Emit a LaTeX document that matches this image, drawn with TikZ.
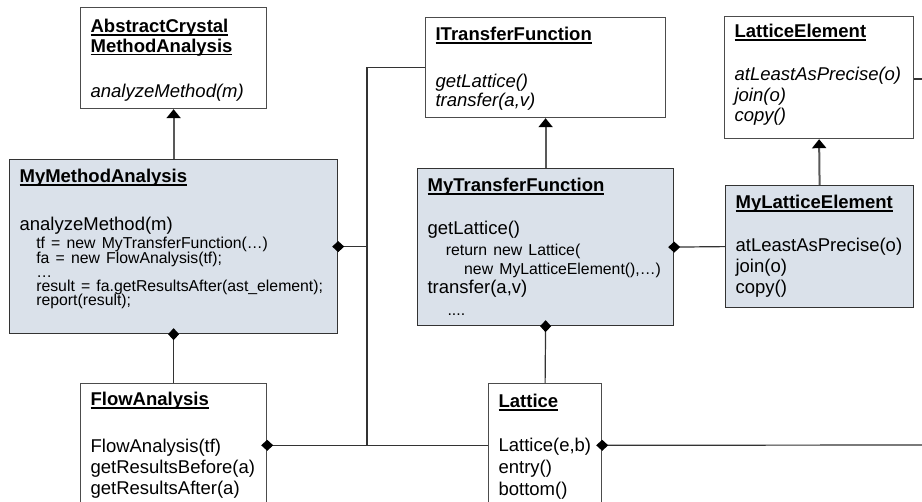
\documentclass[tikz,border=0pt]{standalone}
\usepackage{fontspec}
\setmainfont{Liberation Sans}
\usetikzlibrary{arrows.meta}
\definecolor{implfill}{RGB}{218,225,234}
\newcommand{\umltext}{\fontsize{9.25pt}{10.4pt}\selectfont}
\newcommand{\umlcode}{\fontsize{7.9pt}{7pt}\selectfont}
\newcommand{\clsname}[1]{\leavevmode\setbox0\hbox{\bfseries #1}\rlap{\rule[-1.6pt]{\wd0}{0.9pt}}\box0}
\hyphenpenalty=10000
\exhyphenpenalty=10000
\begin{document}
\begin{tikzpicture}[x=0.5pt,y=-0.5pt]
    \tikzset{
    cls/.style={draw=black!70, line width=0.6pt, fill=white, anchor=north west,
      inner xsep=5pt, inner ysep=0pt, align=left, text height=11.5pt, font=\umltext},
    impl/.style={cls, fill=implfill, draw=black!80},
    comp/.style={{Diamond[length=6pt,width=5.5pt,black]}-, shorten <=-3pt, draw=black!80, line width=0.6pt},
    inh/.style={-{Triangle[length=4.5pt,width=7pt,black]}, draw=black!65, line width=1pt},
    wire/.style={draw=black!80, line width=0.6pt},
    }
    \useasboundingbox (0,0) rectangle (922,502);
    \clip (0,0) rectangle (922,502);

    % interfaces and abstract classes
    \node[cls, text width=83pt, text height=12.5pt, text depth=38pt] (acma) at (80,7)
      {\clsname{AbstractCrystal}\\[-0.55pt]\clsname{MethodAnalysis}\\[12.25pt]\textit{analyzeMethod(m)}};
    \node[cls, text width=110pt, text depth=38.5pt] (itf) at (425,17)
      {\clsname{ITransferFunction}\\[13pt]\textit{getLattice()}\\[-0.9pt]\textit{transfer(a,v)}};
    \node[cls, text width=84.5pt, text height=10.5pt, text depth=50.5pt] (latel) at (724,16)
      {\clsname{LatticeElement}\\[11pt]\textit{atLeastAsPrecise(o)}\\\textit{join(o)}\\\textit{copy()}};

    % user classes
    \node[impl, text width=154pt, text depth=75.5pt] (mma) at (9,159)
      {\clsname{MyMethodAnalysis}\\[13.5pt]analyzeMethod(m)\\[-1.2pt]%
       {\umlcode\hspace*{8.35pt}tf = new MyTransferFunction(…)}\\[-3.25pt]%
       {\umlcode\hspace*{8.35pt}fa = new FlowAnalysis(tf);}\\[-3.25pt]%
       {\umlcode\hspace*{8.35pt}…}\\[-3.25pt]%
       {\umlcode\hspace*{8.35pt}result = fa.getResultsAfter(ast\_element);}\\[-3.25pt]%
       {\umlcode\hspace*{8.35pt}report(result);}};
    \node[impl, text width=118pt, text depth=67pt] (mtf) at (417,168)
      {\clsname{MyTransferFunction}\\[11.3pt]getLattice()\\%
       {\umlcode\hspace*{9.15pt}return new Lattice(}\\[-1pt]%
       {\umlcode\hspace*{18.3pt}new MyLatticeElement(),…)}\\[-0.9pt]%
       transfer(a,v)\\[0.45pt]%
       {\umlcode\hspace*{10pt}....}};
    \node[impl, text width=84pt, text depth=49.5pt] (mylatel) at (725,185)
      {\clsname{MyLatticeElement}\\[11.3pt]atLeastAsPrecise(o)\\join(o)\\copy()};

    % framework classes
    \node[cls, text width=83pt, text height=11pt, text depth=50.7pt] (flow) at (80,383)
      {\clsname{FlowAnalysis}\\[12.9pt]FlowAnalysis(tf)\\[0.3pt]getResultsBefore(a)\\[0.3pt]getResultsAfter(a)};
    \node[cls, text width=46.5pt, text height=12pt, text depth=49.7pt] (lat) at (488,383)
      {\clsname{Lattice}\\[11.8pt]Lattice(e,b)\\[0.6pt]entry()\\[0.6pt]bottom()};

    \coordinate (bus) at (367,445);
    \coordinate (leout) at (930,79);
    \coordinate (latout) at (930,445);

    \draw[inh] (mma.north) -- (acma.south);
    \draw[inh] (mtf.north) -- (itf.south);
    \draw[inh] (mylatel.north) -- (latel.south);

    \draw[wire] (itf.west) -| (bus);
    \draw[wire] (latel.east |- leout) -- (leout);
    \draw[comp] (mma.east) -- (mma.east -| bus);
    \draw[comp] (mma.south) -- (flow.north);
    \draw[comp] (mtf.east) -- (mylatel.west);
    \draw[comp] (mtf.south) -- (lat.north);
    \draw[comp] (flow.east) -- (lat.west);
    \draw[comp] (lat.east) -- (latout);
\end{tikzpicture}
\end{document}
